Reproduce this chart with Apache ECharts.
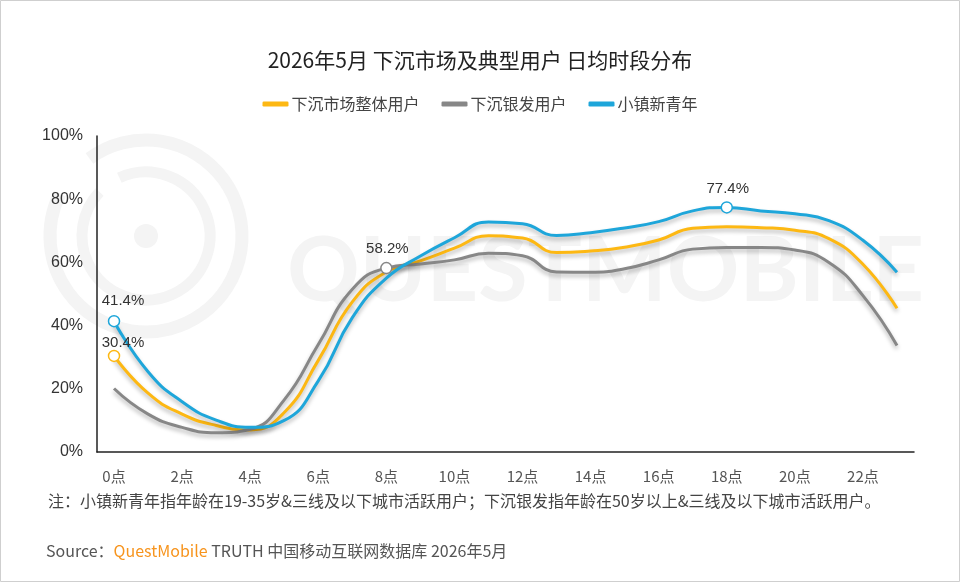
<!DOCTYPE html>
<html>
<head>
<meta charset="utf-8">
<style>
  html, body { margin: 0; padding: 0; background: #fff; }
  #main { width: 960px; height: 582px; }
</style>
<script src="https://cdn.jsdelivr.net/npm/echarts@6/dist/echarts.min.js"></script>
</head>
<body>
<div id="main"></div>
<script>
var hours = ['0点','1点','2点','3点','4点','5点','6点','7点','8点','9点','10点','11点',
  '12点','13点','14点','15点','16点','17点','18点','19点','20点','21点','22点','23点']
var allUsers = [30.4, 18.6, 12.0, 8.4, 7.0, 12.5, 29.0, 47.5, 57.0, 60.5, 64.5, 68.4,
  67.7, 63.1, 63.6, 64.8, 67.1, 70.8, 71.3, 71.0, 70.2, 67.5, 59.4, 45.5]
var silverUsers = [20.1, 12.0, 7.8, 6.1, 7.2, 16.5, 34.0, 51.5, 58.2, 59.5, 60.8, 62.9,
  62.1, 57.0, 56.9, 58.0, 60.8, 64.2, 64.7, 64.7, 63.9, 60.0, 49.5, 33.7]
var youthUsers = [41.4, 25.4, 15.9, 10.1, 7.8, 10.0, 22.5, 42.5, 55.0, 62.0, 67.8, 72.8,
  72.2, 68.5, 69.4, 70.9, 72.9, 76.3, 77.4, 76.3, 75.4, 73.2, 67.0, 56.9]
var seriesNames = ['下沉市场整体用户', '下沉银发用户', '小镇新青年']
var colors = ['#FDB813', '#878787', '#1EA6DA']

var FONT = '"Noto Sans CJK SC", "Microsoft YaHei", sans-serif'
var NUM_FONT = 'Arial, "Liberation Sans", sans-serif'

// put a marker + label on selected points only
function withMarks(values, marks, color) {
  return values.map(function (v, i) {
    if (marks[i] === undefined) return v
    return {
      value: v,
      symbol: 'circle',
      symbolSize: 11,
      itemStyle: { color: '#fff', borderColor: color, borderWidth: 1.5 },
      label: { show: true, position: 'top', offset: marks[i], formatter: '{c}%' }
    }
  })
}

function lineSeries(name, data, color) {
  return {
    name: name,
    type: 'line',
    smooth: 0.5,
    symbol: 'none',
    showSymbol: true,
    data: data,
    color: color,
    lineStyle: {
      width: 3,
      color: color,
      shadowColor: 'rgba(0,0,0,0.28)',
      shadowBlur: 4,
      shadowOffsetY: 3
    },
    label: { color: '#333', fontSize: 15, fontFamily: NUM_FONT },
    emphasis: { disabled: true }
  }
}

var chart = echarts.init(document.getElementById('main'))
var option = {
  backgroundColor: '#fff',
  animation: false,
  textStyle: { fontFamily: FONT },
  title: {
    text: '2026年5月 下沉市场及典型用户 日均时段分布',
    left: 'center',
    top: 45,
    textStyle: { fontSize: 21, fontWeight: 'normal', color: '#222', fontFamily: FONT }
  },
  legend: {
    top: 91,
    left: 'center',
    itemWidth: 26,
    itemHeight: 5,
    itemGap: 22,
    icon: 'roundRect',
    textStyle: { fontSize: 16, color: '#444', fontFamily: FONT, padding: [0, 0, 0, -2] },
    data: seriesNames
  },
  grid: { left: 97, right: 46, top: 136, bottom: 130 },
  xAxis: {
    type: 'category',
    data: hours,
    boundaryGap: true,
    axisLine: { lineStyle: { color: '#222', width: 1.5 } },
    axisTick: { show: false },
    axisLabel: { interval: 1, color: '#555', fontSize: 15, margin: 17, fontFamily: FONT }
  },
  yAxis: {
    type: 'value',
    min: 0,
    max: 100,
    interval: 20,
    axisLine: { show: true, lineStyle: { color: '#222', width: 1.5 } },
    axisTick: { show: false },
    splitLine: { show: false },
    axisLabel: { formatter: '{value}%', color: '#333', fontSize: 16, margin: 14, fontFamily: NUM_FONT }
  },
  graphic: [
    { type: 'rect', shape: { x: 0.5, y: 0.5, width: 959, height: 581 }, style: { fill: 'none', stroke: '#cfcfcf', lineWidth: 1 }, silent: true },
    // watermark
    { type: 'arc', shape: { cx: 146, cy: 236, r: 96, startAngle: -2.2, endAngle: 3.6 }, style: { stroke: '#f4f4f4', lineWidth: 13, fill: 'none' }, silent: true, z: -5 },
    { type: 'arc', shape: { cx: 146, cy: 236, r: 64, startAngle: -2.0, endAngle: 3.9 }, style: { stroke: '#f4f4f4', lineWidth: 11, fill: 'none' }, silent: true, z: -5 },
    { type: 'circle', shape: { cx: 146, cy: 236, r: 12 }, style: { fill: '#f4f4f4' }, silent: true, z: -5 },
    { type: 'text', x: 287, y: 272, style: { text: 'QUESTMOBILE', fontSize: 90, fontWeight: 'bold', fontFamily: 'Lato, "Open Sans", sans-serif', fill: '#f4f4f4', verticalAlign: 'middle' }, silent: true, z: -5 },
    // footnote
    { type: 'text', left: 48, top: 493, style: { text: '注：小镇新青年指年龄在19-35岁&三线及以下城市活跃用户；下沉银发指年龄在50岁以上&三线及以下城市活跃用户。', fontSize: 16, fill: '#444', fontFamily: FONT }, silent: true },
    { type: 'text', left: 46, top: 543, style: {
      text: '{g|Source：}{o|QuestMobile}{g| TRUTH 中国移动互联网数据库 2026年5月}',
      rich: {
        g: { fontSize: 16, fill: '#555', color: '#555', fontFamily: FONT },
        o: { fontSize: 16, fill: '#F7941D', color: '#F7941D', fontFamily: FONT }
      } }, silent: true }
  ],
  series: [
    lineSeries(seriesNames[0], withMarks(allUsers, { 0: [9, 6] }, colors[0]), colors[0]),
    lineSeries(seriesNames[1], withMarks(silverUsers, { 8: [1, 0] }, colors[1]), colors[1]),
    lineSeries(seriesNames[2], withMarks(youthUsers, { 0: [9, -2], 18: [1, 0] }, colors[2]), colors[2])
  ]
}
chart.setOption(option)
</script>
</body>
</html>
